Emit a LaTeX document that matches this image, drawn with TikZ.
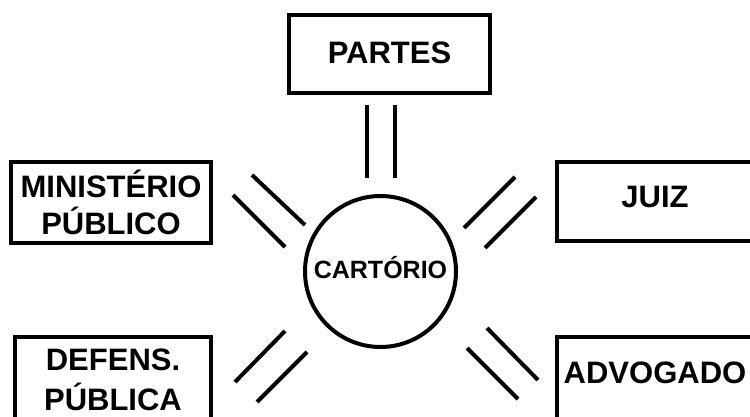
\documentclass[tikz,border=0pt]{standalone}
\usepackage{fontspec}
\setmainfont{Liberation Sans}
\begin{document}
\begin{tikzpicture}[x=1pt,y=-1pt,
  box/.style={draw, line width=4pt, rectangle, inner sep=0pt,
    font=\fontsize{31}{38}\selectfont\bfseries, align=center},
  hub/.style={draw, line width=4pt, circle, inner sep=0pt, minimum size=151pt,
    font=\fontsize{25}{30}\selectfont\bfseries, text height=17.9pt, text depth=4pt},
  link/.style={line width=4pt}]
\useasboundingbox (0,0) rectangle (750,417);
\clip (0,0) rectangle (750,417);
% nodes
\node[hub] (cart) at (380.5,271.5) {CARTÓRIO};
\node[box, minimum width=201pt, minimum height=78pt, text height=22.2pt, text depth=3pt] (partes) at (389.5,54) {PARTES};
\node[box, minimum width=200pt, minimum height=81pt, font=\fontsize{31}{37}\selectfont\bfseries] (mp) at (111,202.5) {MINISTÉRIO\\PÚBLICO};
\node[box, minimum width=196pt, minimum height=79pt, text height=22.2pt, text depth=10pt] (juiz) at (655,201.5) {JUIZ};
\node[box, minimum width=196pt, minimum height=86pt, font=\fontsize{31}{40}\selectfont\bfseries] (dp) at (113,380) {DEFENS.\\PÚBLICA};
\node[box, minimum width=196pt, minimum height=86pt, text height=22.2pt, text depth=15pt] (adv) at (655,380) {ADVOGADO};
% connector end points
\coordinate (pa1) at (366.5,105); \coordinate (pa2) at (366.5,178.5);
\coordinate (pb1) at (394.5,105); \coordinate (pb2) at (394.5,178.5);
\coordinate (ma1) at (252,175); \coordinate (ma2) at (305,225);
\coordinate (mb1) at (233,195); \coordinate (mb2) at (285,247);
\coordinate (ja1) at (515,177); \coordinate (ja2) at (464,228);
\coordinate (jb1) at (536,197); \coordinate (jb2) at (485,248);
\coordinate (da1) at (285,331); \coordinate (da2) at (235,382);
\coordinate (db1) at (307,352); \coordinate (db2) at (257,402);
\coordinate (aa1) at (487,328); \coordinate (aa2) at (538,380);
\coordinate (ab1) at (467,348); \coordinate (ab2) at (518,399);
% connectors (double lines)
\draw[link] (pa1) -- (pa2); \draw[link] (pb1) -- (pb2);
\draw[link] (ma1) -- (ma2); \draw[link] (mb1) -- (mb2);
\draw[link] (ja1) -- (ja2); \draw[link] (jb1) -- (jb2);
\draw[link] (da1) -- (da2); \draw[link] (db1) -- (db2);
\draw[link] (aa1) -- (aa2); \draw[link] (ab1) -- (ab2);
\end{tikzpicture}
\end{document}
